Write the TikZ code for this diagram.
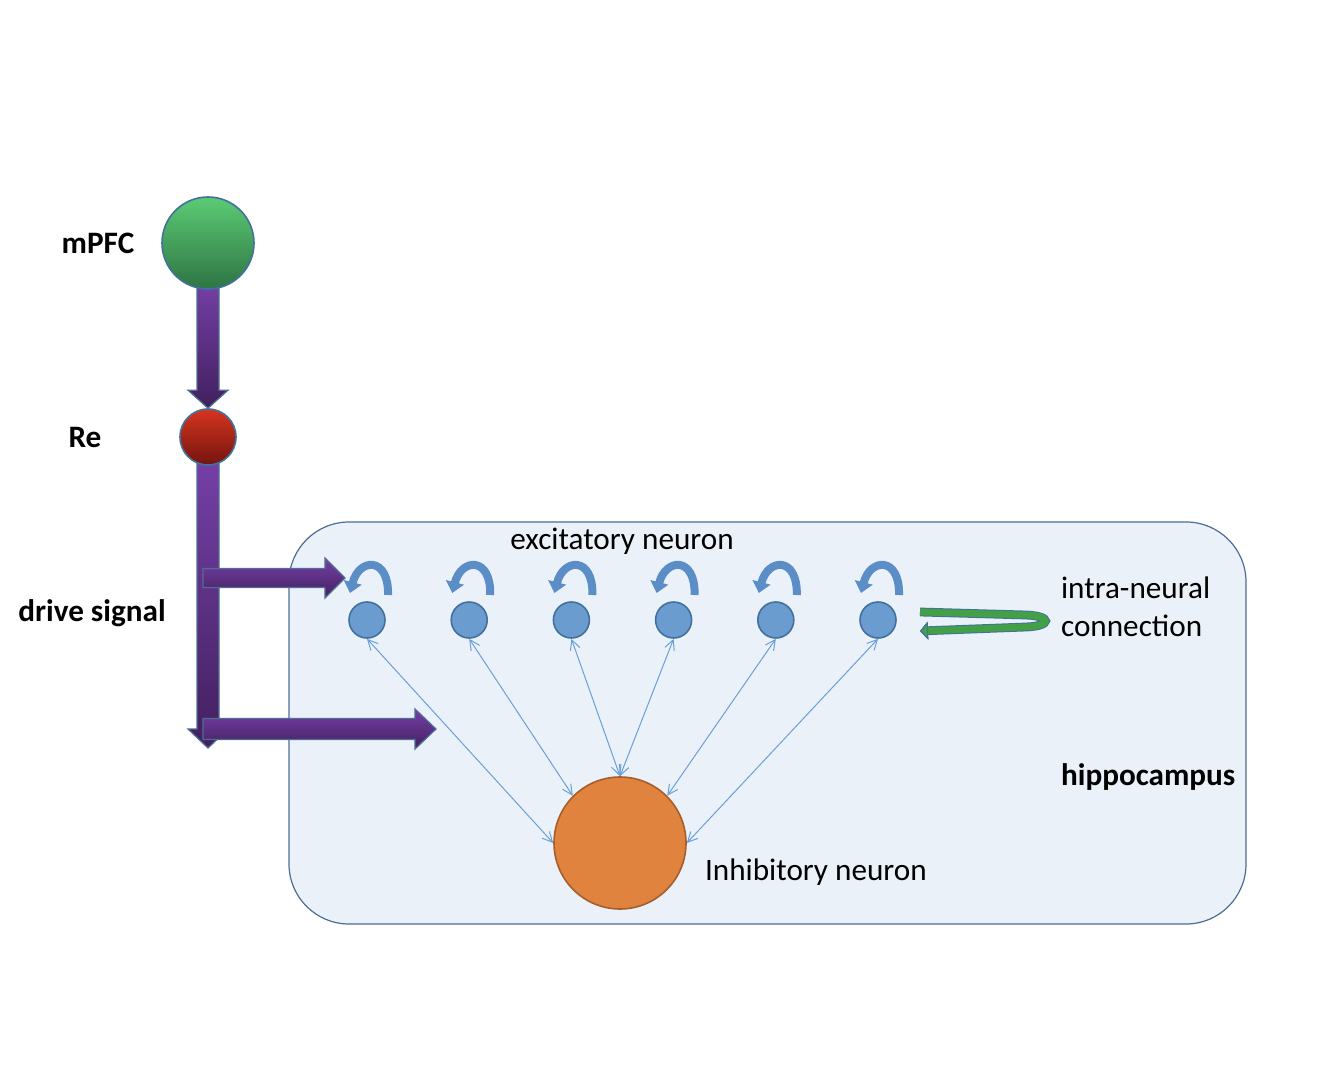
\documentclass[tikz,border=0pt]{standalone}
\usepackage{fontspec}
\setmainfont{Carlito}
\usetikzlibrary{arrows.meta, calc, backgrounds}
\definecolor{boxfill}{HTML}{EBF1F9}
\definecolor{boxline}{HTML}{4D6E94}
\definecolor{cellblue}{HTML}{6A9CD0}
\definecolor{cellline}{HTML}{41719C}
\definecolor{linkblue}{HTML}{6A9FD8}
\definecolor{curlblue}{HTML}{5B8DC6}
\definecolor{loopgreen}{HTML}{43A047}
\definecolor{drivetop}{HTML}{7640A8}
\definecolor{drivebot}{HTML}{42205E}
\definecolor{inhfill}{HTML}{E0833F}
\definecolor{inhline}{HTML}{A65E2A}
\definecolor{pfctop}{HTML}{5CCB74}
\definecolor{pfcbot}{HTML}{2D7444}
\definecolor{retop}{HTML}{D6361F}
\definecolor{rebot}{HTML}{741410}

\begin{document}
\begin{tikzpicture}[x=0.5pt, y=-0.5pt,
    font=\fontsize{15.6}{19}\selectfont,
    label/.style={font=\fontsize{15.6}{19}\selectfont\bfseries},
    excite/.style={draw=cellline, line width=0.8pt, circle, minimum size=18pt, inner sep=0pt, fill=cellblue},
    fatarrow/.style={draw=boxline, line width=0.6pt, top color=drivetop, bottom color=drivebot},
    curl/.style={draw=curlblue, line width=4pt, -{Triangle[width=9pt, length=5.5pt]}},
    link/.style={draw=linkblue, line width=0.5pt, {Straight Barb[length=5pt, width=5pt]}-{Straight Barb[length=5pt, width=5pt]}}
]
    \useasboundingbox (0,0) rectangle (1326,1068);

    % Hippocampus region
    \begin{scope}[on background layer]
        \draw[draw=boxline, line width=0.6pt, fill=boxfill, rounded corners=30pt] (289,522) rectangle (1246,924);
    \end{scope}

    % Source areas
    \node[circle, draw=cellline, line width=0.8pt, minimum size=46pt, inner sep=0pt,
          top color=pfctop, bottom color=pfcbot] (mpfc) at (208,243) {};
    \node[circle, draw=cellline, line width=0.8pt, minimum size=28pt, inner sep=0pt,
          top color=retop, bottom color=rebot] (re) at (208,437) {};
    \node[label] (mpfclab) at (98,243) {mPFC};
    \node[label] (relab) at (85,437) {Re};
    \node[label] (drivelab) at (92,613) {drive signal};

    % Drive signal end points
    \coordinate (drvend) at (208,748);
    \coordinate (d1) at (203,578);
    \coordinate (t1) at (345,578);
    \coordinate (d2) at (203,729);
    \coordinate (t2) at (436,729);

    % Excitatory neurons
    \foreach \i in {1,...,6}
        \node[excite] (e\i) at ({367+102.2*(\i-1)},620) {};
    \node (exclab) at (622,541) {excitatory neuron};

    % Inhibitory neuron
    \node[circle, draw=inhline, line width=0.8pt, minimum size=66pt, inner sep=0pt, fill=inhfill] (inh) at (620,843) {};
    \node[anchor=west] (inhlab) at (698,872) {Inhibitory neuron};

    \node[label, anchor=west] (hippolab) at (1054,777) {hippocampus};
    \node[anchor=west, align=left] (intralab) at (1054,607) {intra-neural\\connection};

    % Fat drive arrows
    \begin{scope}[on background layer]
        \path[fatarrow] ($(mpfc.south)+(-11,-12)$) -- ($(re.north)+(-11,-18)$) -- ($(re.north)+(-20,-18)$)
            -- (re.north) -- ($(re.north)+(20,-18)$) -- ($(re.north)+(11,-18)$) -- ($(mpfc.south)+(11,-12)$) -- cycle;
        \path[fatarrow] ($(re.south)+(-11,-10)$) -- ($(drvend)+(-11,-19)$) -- ($(drvend)+(-20,-19)$)
            -- (drvend) -- ($(drvend)+(20,-19)$) -- ($(drvend)+(11,-19)$) -- ($(re.south)+(11,-10)$) -- cycle;
        \path[fatarrow] ($(d1)+(0,-9.5)$) -- ($(t1)+(-20,-9.5)$) -- ($(t1)+(-20,-20)$)
            -- (t1) -- ($(t1)+(-20,20)$) -- ($(t1)+(-20,9.5)$) -- ($(d1)+(0,9.5)$) -- cycle;
        \path[fatarrow] ($(d2)+(0,-10.5)$) -- ($(t2)+(-21,-10.5)$) -- ($(t2)+(-21,-20)$)
            -- (t2) -- ($(t2)+(-21,20)$) -- ($(t2)+(-21,10.5)$) -- ($(d2)+(0,10.5)$) -- cycle;
    \end{scope}

    % Self connections
    \foreach \i in {1,...,6}
        \draw[curl] ($(e\i)+(21,-25)$) .. controls ($(e\i)+(22,-64)$) and ($(e\i)+(-8,-62)$) .. ($(e\i)+(-17,-27)$);

    % Excitatory <-> inhibitory
    \foreach \i/\a in {1/west, 2/north west, 3/north, 4/north, 5/north east, 6/east}
        \draw[link] (e\i.south) -- (inh.\a);

    % Intra-neural loop
    \draw[draw=loopgreen, line width=3.4pt, preaction={draw=cellline, line width=4.4pt},
          -{Triangle[width=9pt, length=4pt, color=cellline, fill=loopgreen, line width=0.5pt]}]
        ($(e6)+(42,-8)$) -- ($(e6)+(148,-5)$) .. controls ($(e6)+(174,-4)$) and ($(e6)+(174,6)$)
        .. ($(e6)+(148,7)$) -- ($(e6)+(42,11)$);

\end{tikzpicture}
\end{document}
